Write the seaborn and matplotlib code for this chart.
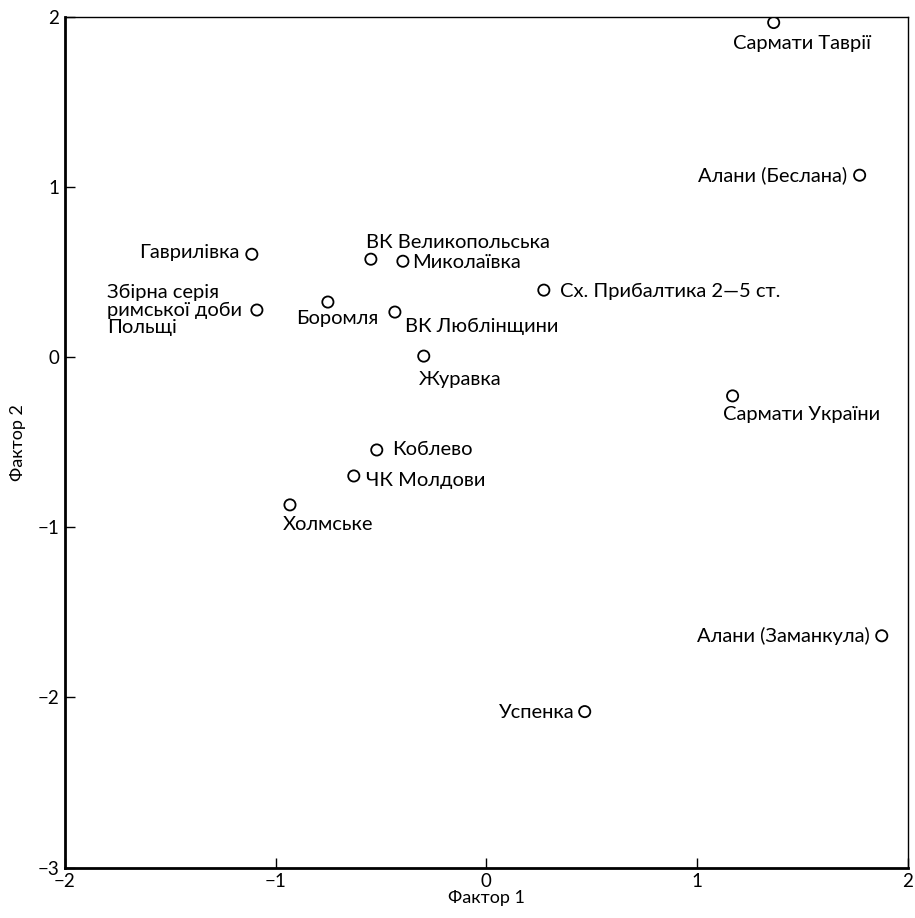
import matplotlib
matplotlib.use("Agg")
import matplotlib.pyplot as plt
import seaborn as sns
import pandas as pd

# Data
names = [
    "Сармати Таврії", "Алани (Беслана)", "Гаврилівка", "ВК Великопольська",
    "Миколаївка", "Сх. Прибалтика 2—5 ст.", "Збірна серія\nримської доби\nПольщі",
    "Боромля", "ВК Люблінщини", "Журавка", "Сармати України", "Коблево",
    "ЧК Молдови", "Холмське", "Алани (Заманкула)", "Успенка",
]
factor1 = [1.364, 1.772, -1.113, -0.548, -0.396, 0.273, -1.089, -0.752,
           -0.434, -0.297, 1.169, -0.520, -0.629, -0.932, 1.877, 0.467]
factor2 = [1.970, 1.072, 0.607, 0.578, 0.566, 0.396, 0.279, 0.326,
           0.267, 0.008, -0.226, -0.544, -0.697, -0.867, -1.637, -2.083]

# label placement: (dx, dy) in pixels, ha, va
label_pos = {
    "Сармати Таврії": (-41, -12, "left", "top"),
    "Алани (Беслана)": (-13, 0, "right", "center"),
    "Гаврилівка": (-12, 2, "right", "center"),
    "ВК Великопольська": (-5, 8, "left", "bottom"),
    "Миколаївка": (9, -1, "left", "center"),
    "Сх. Прибалтика 2—5 ст.": (16, -1, "left", "center"),
    "Збірна серія\nримської доби\nПольщі": (-150, 0, "left", "center"),
    "Боромля": (-32, -8, "left", "top"),
    "ВК Люблінщини": (10, -6, "left", "top"),
    "Журавка": (-5, -15, "left", "top"),
    "Сармати України": (-10, -10, "left", "top"),
    "Коблево": (15, 0, "left", "center"),
    "ЧК Молдови": (12, -5, "left", "center"),
    "Холмське": (-7, -11, "left", "top"),
    "Алани (Заманкула)": (-12, 0, "right", "center"),
    "Успенка": (-10, -1, "right", "center"),
}

df = pd.DataFrame({"name": names, "f1": factor1, "f2": factor2})

sns.set_style("white")
plt.rcParams["font.family"] = ["Lato", "DejaVu Sans"]
plt.rcParams["text.color"] = "black"
plt.rcParams["axes.labelcolor"] = "black"
plt.rcParams["xtick.color"] = "black"
plt.rcParams["ytick.color"] = "black"

fig, ax = plt.subplots(figsize=(9.15, 9.18), dpi=100)
fig.subplots_adjust(left=0.071, right=0.992, top=0.981, bottom=0.055)

sns.scatterplot(data=df, x="f1", y="f2", ax=ax, s=65, marker="o",
                facecolor="none", edgecolor="black", linewidth=1.3, legend=False)

for _, row in df.iterrows():
    dx, dy, ha, va = label_pos[row["name"]]
    ax.annotate(row["name"], (row["f1"], row["f2"]),
                xytext=(dx * 0.72, dy * 0.72), textcoords="offset points",
                ha=ha, va=va, fontsize=14.5, linespacing=1.05, color="black")

ax.set_xlim(-2, 2)
ax.set_ylim(-3, 2)
ax.set_xticks([-2, -1, 0, 1, 2])
ax.set_yticks([-3, -2, -1, 0, 1, 2])
ax.set_xticklabels(["\u22122", "\u22121", "0", "1", "2"])
ax.set_yticklabels(["\u22123", "\u22122", "\u22121", "0", "1", "2"])
ax.tick_params(direction="in", length=7, width=1, labelsize=13.5, pad=4,
               bottom=True, left=True)
ax.set_xlabel("Фактор 1", fontsize=13, labelpad=0)
ax.set_ylabel("Фактор 2", fontsize=13, labelpad=8)

for side in ["top", "right"]:
    ax.spines[side].set_linewidth(1.0)
for side in ["left", "bottom"]:
    ax.spines[side].set_linewidth(2.0)
for sp in ax.spines.values():
    sp.set_color("black")

fig.savefig("out.png", dpi=100)
